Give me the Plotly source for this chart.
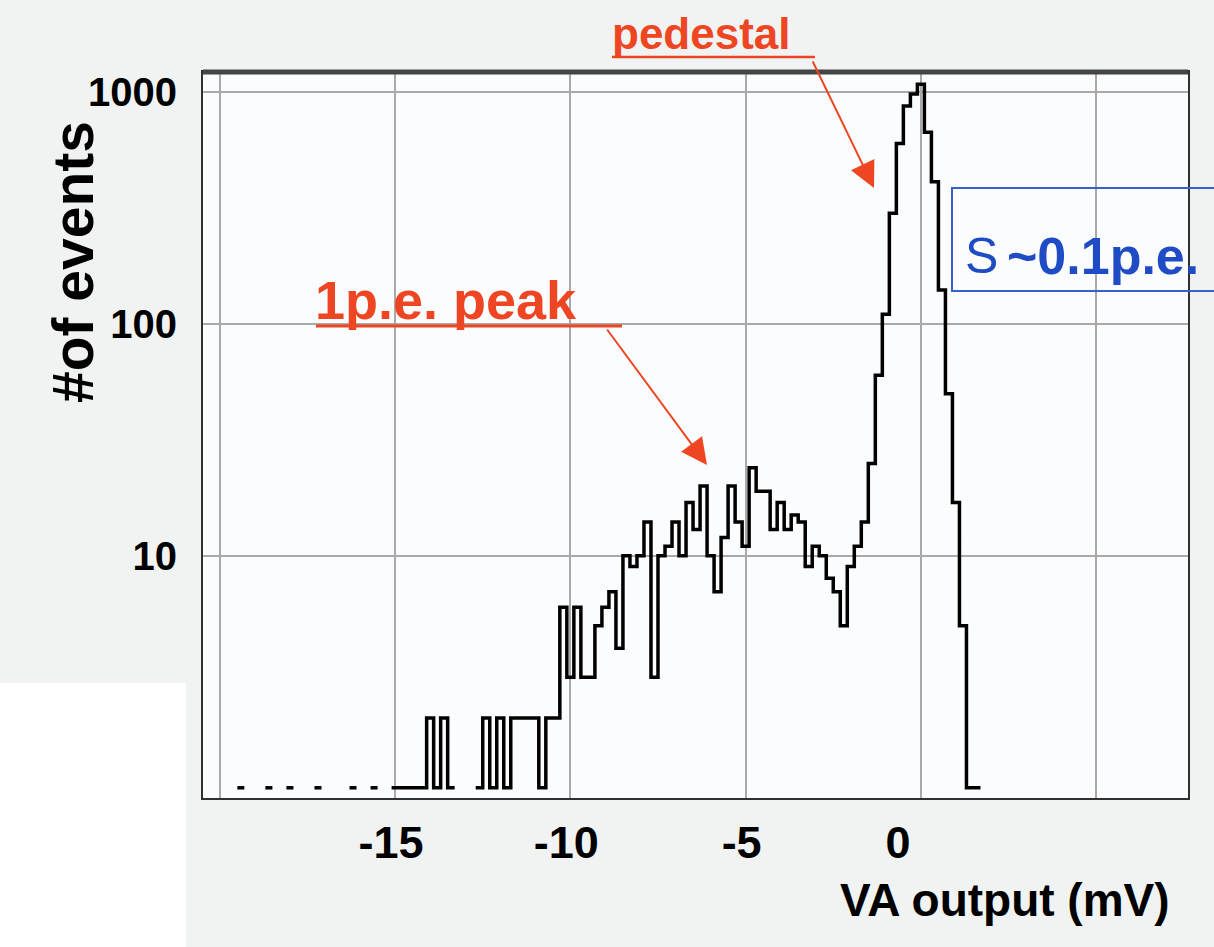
import plotly.graph_objects as go

# VA output spectrum: non-empty histogram bins (centre in mV, bin width 0.2 mV)
bin_centers_mv = [
    -19.4, -18.6, -18.0, -17.2, -16.2, -15.6,
    -15.0, -14.8, -14.6, -14.4, -14.2, -14.0, -13.8, -13.6, -13.4,
    -12.6, -12.4, -12.2, -12.0, -11.8, -11.6, -11.4, -11.2, -11.0,
    -10.8, -10.6, -10.4, -10.2, -10.0, -9.8, -9.6, -9.4, -9.2, -9.0,
    -8.8, -8.6, -8.4, -8.2, -8.0, -7.8, -7.6, -7.4, -7.2, -7.0,
    -6.8, -6.6, -6.4, -6.2, -6.0, -5.8, -5.6, -5.4, -5.2, -5.0,
    -4.8, -4.6, -4.4, -4.2, -4.0, -3.8, -3.6, -3.4, -3.2, -3.0,
    -2.8, -2.6, -2.4, -2.2, -2.0, -1.8, -1.6, -1.4, -1.2, -1.0,
    -0.8, -0.6, -0.4, -0.2, 0.0, 0.2, 0.4, 0.6, 0.8, 1.0,
    1.2, 1.4, 1.6,
]
event_counts = [
    1, 1, 1, 1, 1, 1,
    1, 1, 1, 1, 1, 2, 1, 2, 1,
    1, 2, 1, 2, 1, 2, 2, 2, 2,
    1, 2, 2, 6, 3, 6, 3, 3, 5, 6,
    7, 4, 10, 9, 10, 14, 3, 10, 11, 14,
    10, 17, 13, 20, 10, 7, 12, 20, 14, 11,
    24, 19, 19, 13, 17, 13, 15, 14, 9, 11,
    10, 8, 7, 5, 9, 11, 14, 25, 60, 110,
    300, 600, 870, 980, 1080, 670, 410, 140, 50, 17,
    5, 1, 1,
]
BIN_WIDTH_MV = 0.2

x_tick_vals = [-20, -15, -10, -5, 0, 5]
x_tick_text = ["", "-15", "-10", "-5", "0\u00a0\u00a0\u00a0", ""]
y_tick_vals = [10, 100, 1000]
y_tick_text = ["10", "100", "1000"]

RED = "#ee4622"
BLUE = "#1f4cc4"
FONT = "Liberation Sans, Arial, Helvetica, sans-serif"

# Step outline of the histogram; empty bins break the line
step_x, step_y = [], []
prev_c = None
for c, n in zip(bin_centers_mv, event_counts):
    if prev_c is not None and abs(c - prev_c - BIN_WIDTH_MV) > 1e-6:
        step_x.append(None)
        step_y.append(None)
    step_x += [c - BIN_WIDTH_MV / 2, c + BIN_WIDTH_MV / 2]
    step_y += [n, n]
    prev_c = c

fig = go.Figure()
fig.add_trace(go.Scatter(
    x=step_x, y=step_y, mode="lines",
    line=dict(color="black", width=3.5),
    connectgaps=False, hoverinfo="skip", showlegend=False,
))

# Page geometry (pixels) used to place the labels around the frame
W, H = 1214, 947
L, R, T, B = 203, 1188, 72, 798


def px(x):
    return (x - L) / (R - L)


def py(y):
    return (B - y) / (B - T)


shapes = [
    # white lower-left corner of the page
    dict(type="rect", xref="paper", yref="paper", x0=px(-5), x1=px(186),
         y0=py(952), y1=py(683), fillcolor="white", line=dict(width=0),
         layer="below"),
    # heavy top edge of the frame
    dict(type="line", xref="paper", yref="paper", x0=0, x1=1, y0=1, y1=1,
         line=dict(color="#454545", width=5)),
    # underlines of the red labels
    dict(type="line", xref="paper", yref="paper", x0=px(612), x1=px(815),
         y0=py(57), y1=py(57), line=dict(color=RED, width=2.5)),
    dict(type="line", xref="paper", yref="paper", x0=px(316), x1=px(622),
         y0=py(326), y1=py(326), line=dict(color=RED, width=3)),
    # open box around the resolution note
    dict(type="path", xref="paper", yref="paper",
         path=(f"M {px(1220)},{py(188)} L {px(952)},{py(188)} "
               f"L {px(952)},{py(291)} L {px(1220)},{py(291)}"),
         line=dict(color="#3462c8", width=2)),
]

annotations = [
    dict(text="#of events", xref="paper", yref="paper", x=px(73), y=py(262),
         xanchor="center", yanchor="middle",
         textangle=-90, showarrow=False,
         font=dict(family=FONT, size=57, color="black", weight="bold")),
    dict(text="VA output (mV)", xref="paper", yref="paper",
         x=px(1172), y=py(900), xanchor="right", yanchor="middle",
         showarrow=False,
         font=dict(family=FONT, size=46, color="black", weight="bold")),
    dict(text="pedestal", xref="paper", yref="paper",
         x=px(610), y=py(33), xanchor="left", yanchor="middle",
         showarrow=False,
         font=dict(family=FONT, size=44, color=RED, weight="bold")),
    dict(text="1p.e. peak", xref="paper", yref="paper",
         x=px(313), y=py(300), xanchor="left", yanchor="middle",
         showarrow=False,
         font=dict(family=FONT, size=54, color=RED, weight="bold")),
    # arrows
    dict(text="", xref="paper", yref="paper", x=px(874), y=py(188),
         ax=812 - 874, ay=60 - 188, showarrow=True, arrowhead=2,
         arrowsize=2.6, arrowwidth=2, arrowcolor=RED, standoff=0),
    dict(text="", xref="paper", yref="paper", x=px(707), y=py(465),
         ax=606 - 707, ay=328 - 465, showarrow=True, arrowhead=2,
         arrowsize=2.6, arrowwidth=2, arrowcolor=RED, standoff=0),
    dict(text="S", xref="paper", yref="paper", x=px(963), y=py(256),
         xanchor="left", yanchor="middle", showarrow=False,
         font=dict(family=FONT, size=50, color=BLUE)),
    dict(text="~0.1p.e.", xref="paper", yref="paper", x=px(1005), y=py(256),
         xanchor="left", yanchor="middle", showarrow=False,
         font=dict(family=FONT, size=52, color=BLUE, weight="bold")),
]

fig.update_layout(
    width=W, height=H,
    margin=dict(l=L, r=W - R, t=T, b=H - B, pad=0),
    paper_bgcolor="#f1f3f3",
    plot_bgcolor="#fafcfd",
    shapes=shapes,
    annotations=annotations,
    showlegend=False,
    font=dict(family=FONT, color="black"),
)

fig.update_xaxes(
    range=[-20.48, 7.62],
    tickvals=x_tick_vals, ticktext=x_tick_text,
    showgrid=True, gridcolor="#a9a9a9", gridwidth=2,
    zeroline=False, ticks="",
    showline=True, linecolor="#303030", linewidth=2, mirror=True,
    tickfont=dict(family=FONT, size=45, color="black", weight="bold"),
    ticklabelstandoff=4, ticklabelshift=-4,
)
fig.update_yaxes(
    type="log", range=[-0.044, 3.086],
    tickvals=y_tick_vals, ticktext=y_tick_text,
    showgrid=True, gridcolor="#a9a9a9", gridwidth=2,
    zeroline=False, ticks="",
    showline=True, linecolor="#303030", linewidth=2, mirror=True,
    tickfont=dict(family=FONT, size=40, color="black", weight="bold"),
    ticklabelstandoff=16,
)

fig.write_html("out.html")
